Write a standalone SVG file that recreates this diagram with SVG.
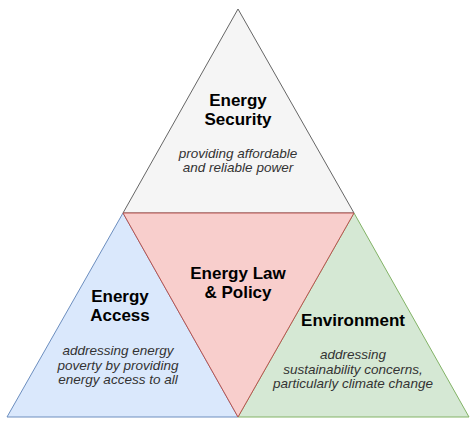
<svg xmlns="http://www.w3.org/2000/svg" width="474" height="426" viewBox="0 0 474 426">
<style>
.t{font-family:"Liberation Sans",Arial,sans-serif;text-anchor:middle;fill:#000}
.b{font-weight:bold;font-size:17px}
.i{font-style:italic;font-size:13.5px;fill:#333}
</style>
<rect width="474" height="426" fill="#fff"/>
<g id="security">
<polygon points="238,9 354,213 123,213" fill="#f5f5f5" stroke="#666666" stroke-width="1"/>
<text class="t b" x="238" y="106">Energy</text>
<text class="t b" x="238" y="125">Security</text>
<text class="t i" x="238" y="158">providing affordable</text>
<text class="t i" x="238" y="172">and reliable power</text>
</g>
<g id="access">
<polygon points="123,213 238,417 7,417" fill="#dae8fc" stroke="#6c8ebf" stroke-width="1"/>
<text class="t b" x="120" y="302">Energy</text>
<text class="t b" x="120" y="321">Access</text>
<text class="t i" x="118" y="355">addressing energy</text>
<text class="t i" x="118" y="370">poverty by providing</text>
<text class="t i" x="118" y="384">energy access to all</text>
</g>
<g id="environment">
<polygon points="354,213 469,417 238,417" fill="#d5e8d4" stroke="#82b366" stroke-width="1"/>
<text class="t b" x="353" y="326">Environment</text>
<text class="t i" x="353" y="359">addressing</text>
<text class="t i" x="353" y="374">sustainability concerns,</text>
<text class="t i" x="353" y="388">particularly climate change</text>
</g>
<g id="law">
<polygon points="123,213 354,213 238,417" fill="#f8cecc" stroke="#b85450" stroke-width="1"/>
<text class="t b" x="238" y="279">Energy Law</text>
<text class="t b" x="238" y="298">&amp; Policy</text>
</g>
<g id="connectors"></g>
</svg>
